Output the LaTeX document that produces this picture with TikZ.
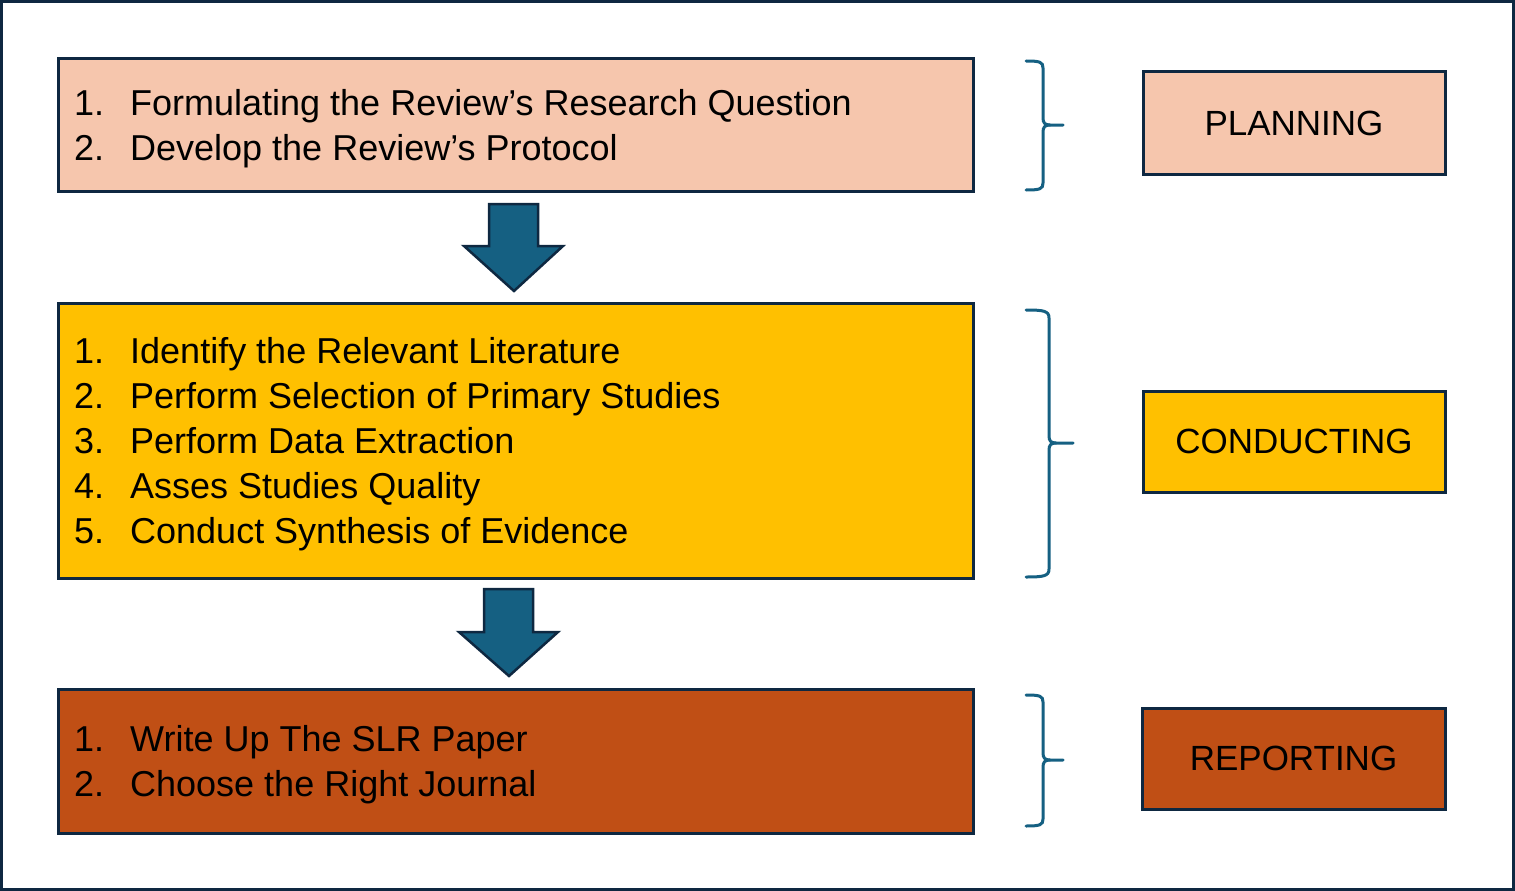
\documentclass[tikz,border=0pt]{standalone}
\usepackage{fontspec}
\setmainfont{Liberation Sans}
\definecolor{navy}{HTML}{0E2841}
\definecolor{planc}{HTML}{F6C6AD}
\definecolor{condc}{HTML}{FFC000}
\definecolor{repc}{HTML}{C04F15}
\definecolor{arrc}{HTML}{156082}
\tikzset{
  frame/.style={draw=navy, line width=3pt},
  box/.style={draw=navy, line width=3pt, inner sep=0pt, rectangle},
  item/.style={anchor=base west, inner sep=0pt, font=\fontsize{36}{42}\selectfont},
  label/.style={font=\fontsize{35}{42}\selectfont, inner sep=0pt},
  blockarrow/.style={fill=arrc, draw=navy, line width=2.5pt, line join=miter},
  bracestyle/.style={draw=arrc, line width=3pt, line cap=round}
}
\begin{document}
\begin{tikzpicture}[x=1pt,y=-1pt]
\useasboundingbox (0,0) rectangle (1515,891);
\draw[frame] (1.5,1.5) rectangle (1513.5,889.5);

% left boxes
\node[box, fill=planc, minimum width=915pt, minimum height=132pt] (plan) at (515.5,125) {};
\node[box, fill=condc, minimum width=915pt, minimum height=275pt] (cond) at (515.5,440.5) {};
\node[box, fill=repc, minimum width=915pt, minimum height=144pt] (rep) at (515.5,761) {};

% right labels
\node[box, fill=planc, minimum width=302pt, minimum height=102pt] (planL) at (1294,123) {};
\node[label] (planT) at (1294,123) {PLANNING};
\node[box, fill=condc, minimum width=302pt, minimum height=101pt] (condL) at (1294,441.5) {};
\node[label] (condT) at (1294,441.5) {CONDUCTING};
\node[box, fill=repc, minimum width=303pt, minimum height=101pt] (repL) at (1293.5,758.5) {};
\node[label] (repT) at (1293.5,758.5) {REPORTING};

% planning items
\node[item] (p1n) at (74,115) {1.};
\node[item] (p1) at (130,115) {Formulating the Review’s Research Question};
\node[item] (p2n) at (74,160) {2.};
\node[item] (p2) at (130,160) {Develop the Review’s Protocol};

% conducting items
\node[item] (c1n) at (74,363) {1.};
\node[item] (c1) at (130,363) {Identify the Relevant Literature};
\node[item] (c2n) at (74,408) {2.};
\node[item] (c2) at (130,408) {Perform Selection of Primary Studies};
\node[item] (c3n) at (74,453) {3.};
\node[item] (c3) at (130,453) {Perform Data Extraction};
\node[item] (c4n) at (74,498) {4.};
\node[item] (c4) at (130,498) {Asses Studies Quality};
\node[item] (c5n) at (74,543) {5.};
\node[item] (c5) at (130,543) {Conduct Synthesis of Evidence};

% reporting items
\node[item] (r1n) at (74,751) {1.};
\node[item] (r1) at (130,751) {Write Up The SLR Paper};
\node[item] (r2n) at (74,796) {2.};
\node[item] (r2) at (130,796) {Choose the Right Journal};

% block arrows
\draw[blockarrow] (489,204) -- (538,204) -- (538,246) -- (563,246) -- (514,291) -- (464,246) -- (489,246) -- cycle;
\draw[blockarrow] (484,589) -- (533,589) -- (533,632) -- (558,632) -- (509,676) -- (459,632) -- (484,632) -- cycle;

% braces
\draw[bracestyle] (1026,61) .. controls (1040,61) and (1043,62) .. (1043,68) -- (1043,118)
  .. controls (1043,123) and (1045,125) .. (1050,125) -- (1063,125);
\draw[bracestyle] (1050,125) .. controls (1045,125) and (1043,127) .. (1043,132) -- (1043,183)
  .. controls (1043,189) and (1040,190) .. (1026,190);

\draw[bracestyle] (1026,310) .. controls (1044,310) and (1049,311) .. (1049,318) -- (1049,436)
  .. controls (1049,441) and (1051,443) .. (1056,443) -- (1073,443);
\draw[bracestyle] (1056,443) .. controls (1051,443) and (1049,445) .. (1049,450) -- (1049,569)
  .. controls (1049,576) and (1044,577) .. (1026,577);

\draw[bracestyle] (1026,695) .. controls (1040,695) and (1043,696) .. (1043,702) -- (1043,753)
  .. controls (1043,758) and (1045,760) .. (1050,760) -- (1063,760);
\draw[bracestyle] (1050,760) .. controls (1045,760) and (1043,762) .. (1043,767) -- (1043,819)
  .. controls (1043,825) and (1040,826) .. (1026,826);
\end{tikzpicture}
\end{document}
